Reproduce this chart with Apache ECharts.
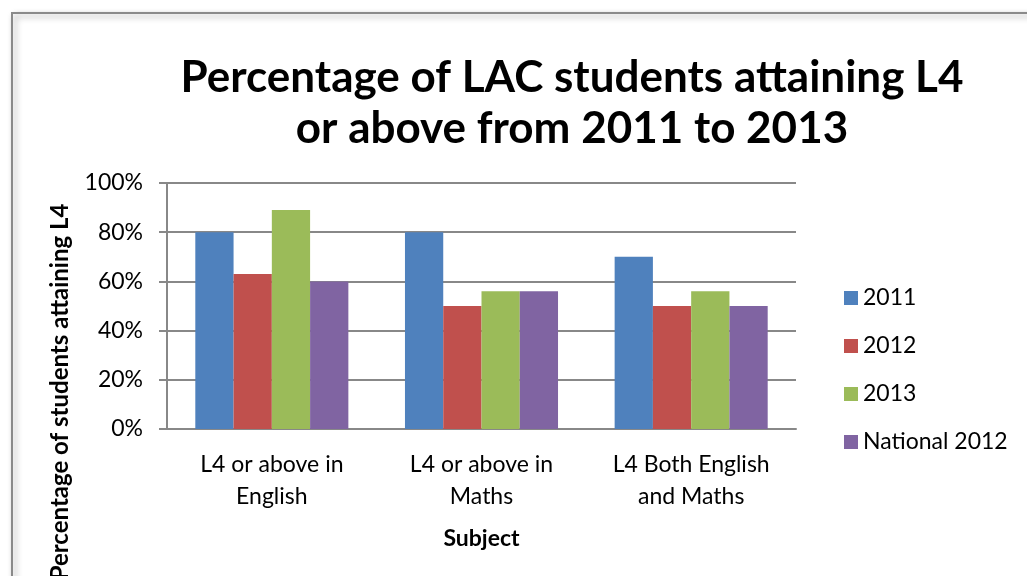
<!DOCTYPE html>
<html>
<head>
<meta charset="utf-8">
<script src="https://cdn.jsdelivr.net/npm/echarts@6/dist/echarts.min.js"></script>
<style>
  html, body { margin: 0; padding: 0; background: #fff; }
  #chart { width: 1027px; height: 576px; }
</style>
</head>
<body>
<div id="chart"></div>
<script>
  var categories = ['L4 or above in\nEnglish', 'L4 or above in\nMaths', 'L4 Both English\nand Maths'];
  var seriesNames = ['2011', '2012', '2013', 'National 2012'];
  var values2011 = [80, 80, 70];
  var values2012 = [63, 50, 50];
  var values2013 = [89, 56, 56];
  var valuesNational2012 = [60, 56, 50];
  var yTicks = [0, 20, 40, 60, 80, 100];
  var colors = ['#4f81bd', '#c0504d', '#9bbb59', '#8064a2'];

  var font = 'Lato, "Open Sans", sans-serif';
  var chart = echarts.init(document.getElementById('chart'));
  var allValues = [values2011, values2012, values2013, valuesNational2012];

  var series = seriesNames.map(function (name, i) {
    return {
      name: name,
      type: 'bar',
      data: allValues[i],
      barGap: '0%',
      barCategoryGap: '27%',
      itemStyle: { color: colors[i] },
      emphasis: { disabled: true }
    };
  });

  var option = {
    animation: false,
    backgroundColor: '#fff',
    color: colors,
    title: {
      text: 'Percentage of LAC students attaining L4\nor above from 2011 to 2013',
      left: 567,
      top: 47,
      textAlign: 'center',
      textStyle: {
        fontFamily: font,
        fontWeight: 'bold',
        fontSize: 44,
        lineHeight: 51,
        color: '#000'
      }
    },
    legend: {
      orient: 'vertical',
      left: 839,
      top: 281,
      icon: 'rect',
      itemWidth: 14,
      itemHeight: 14,
      itemGap: 24,
      textStyle: { fontFamily: font, fontSize: 23, lineHeight: 24, color: '#000' },
      data: seriesNames
    },
    grid: { left: 167, right: 231, top: 183, bottom: 147 },
    xAxis: {
      type: 'category',
      data: categories,
      name: 'Subject',
      nameLocation: 'middle',
      nameGap: 98,
      nameTextStyle: { fontFamily: font, fontWeight: 'bold', fontSize: 23, color: '#000' },
      axisLine: { lineStyle: { color: '#888', width: 2 } },
      axisTick: { show: false },
      axisLabel: { fontFamily: font, fontSize: 23, lineHeight: 32, color: '#000', margin: 20 }
    },
    yAxis: {
      type: 'value',
      min: yTicks[0],
      max: yTicks[yTicks.length - 1],
      interval: 20,
      axisLine: { show: true, lineStyle: { color: '#888', width: 2 } },
      axisTick: { show: true, length: 8, lineStyle: { color: '#888', width: 2 } },
      splitLine: { lineStyle: { color: '#888', width: 2 } },
      axisLabel: { fontFamily: font, fontSize: 23, color: '#000', margin: 24, formatter: '{value}%' }
    },
    graphic: [
      {
        type: 'rect',
        z: -10,
        shape: { x: 12, y: 13, width: 1100, height: 700 },
        style: {
          fill: '#fff',
          stroke: '#8a8a8a',
          lineWidth: 2,
          shadowBlur: 6,
          shadowOffsetX: 3,
          shadowOffsetY: 3,
          shadowColor: 'rgba(0,0,0,0.35)'
        }
      },
      {
        type: 'text',
        z: 10,
        x: 60,
        y: 392,
        rotation: Math.PI / 2,
        style: {
          text: 'Percentage of students attaining L4',
          fontFamily: font,
          fontWeight: 'bold',
          fontSize: 24,
          fill: '#000',
          align: 'center',
          verticalAlign: 'middle'
        }
      }
    ],
    series: series
  };

  chart.setOption(option);
  window.addEventListener('resize', function () {
    chart.resize();
  });
</script>
</body>
</html>
